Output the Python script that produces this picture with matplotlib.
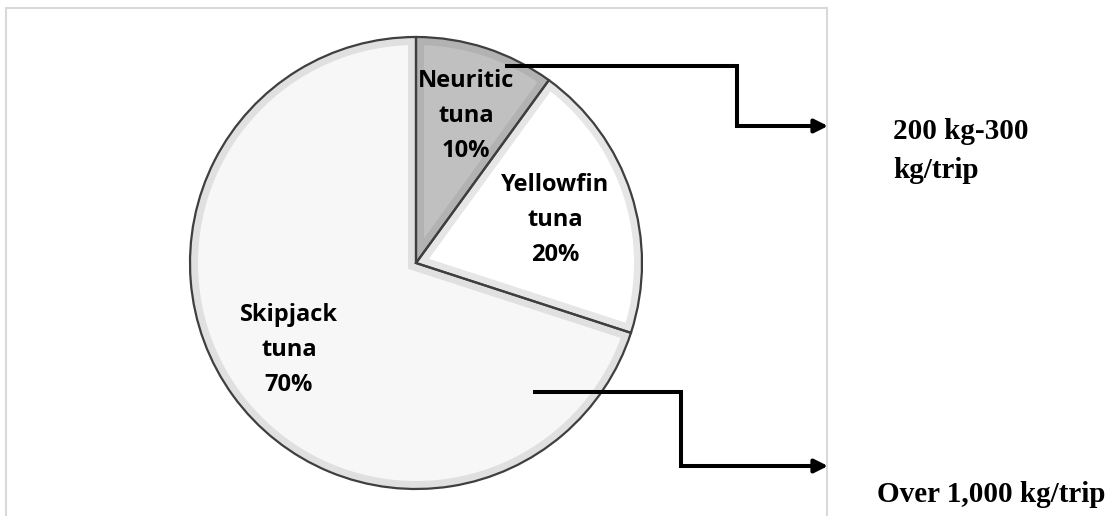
import numpy as np
import matplotlib.pyplot as plt
from matplotlib.patches import Rectangle, Polygon

# data
species = ['Neuritic\ntuna', 'Yellowfin\ntuna', 'Skipjack\ntuna']
shares = [10, 20, 70]
fill_colors = ['#c0c0c0', '#ffffff', '#f7f7f7']
rim_colors = ['#b2b2b2', '#e6e6e6', '#e0e0e0']
catch_notes = ['200 kg-300\nkg/trip', 'Over 1,000 kg/trip']

W, H = 1114, 516
fig = plt.figure(figsize=(W / 100, H / 100), dpi=100)
ax = fig.add_axes([0, 0, 1, 1])

def py(y):
    # pixel row (from top) -> data y
    return H - y

cx, cy, r = 416, py(263), 226
rim = 8  # bevel width in px

# base pie in the rim colour
wedges, _ = ax.pie(shares, colors=rim_colors, startangle=90, counterclock=False,
                   center=(cx, cy), radius=r, wedgeprops=dict(linewidth=0))

# inset face of every wedge (bevel look)
for w, fc in zip(wedges, fill_colors):
    t1, t2 = np.radians(w.theta1), np.radians(w.theta2)
    half = (t2 - t1) / 2
    bis = t1 + half
    off = rim / np.sin(half)
    apex = (cx + off * np.cos(bis), cy + off * np.sin(bis))
    r_in = r - rim
    delta = np.arcsin(rim / r_in)
    ang = np.linspace(t1 + delta, t2 - delta, 200)
    pts = [apex] + list(zip(cx + r_in * np.cos(ang), cy + r_in * np.sin(ang)))
    ax.add_patch(Polygon(pts, closed=True, facecolor=fc, edgecolor='none'))

# dark outline on top
ax.pie(shares, colors=['none'] * 3, startangle=90, counterclock=False,
       center=(cx, cy), radius=r,
       wedgeprops=dict(linewidth=1.6, edgecolor='#3f3f3f', facecolor='none'))

ax.set_xlim(0, W)
ax.set_ylim(0, H)
ax.set_aspect('auto')
ax.axis('off')

# outer frame
ax.add_patch(Rectangle((6, py(530)), 821, 522, fill=False, edgecolor='#d9d9d9', linewidth=1.5))

# slice labels
label_pos = [(466, 116), (555, 220), (289, 350)]
for name, s, (x, y) in zip(species, shares, label_pos):
    ax.text(x, py(y), f'{name}\n{s}%', ha='center', va='center', fontsize=17,
            fontweight='bold', family='Open Sans', linespacing=1.62)

# connector arrows
arrow_paths = [[(507, 66), (737, 66), (737, 126), (812, 126)],
               [(535, 392), (681, 392), (681, 466), (812, 466)]]
for pts in arrow_paths:
    xs = [p[0] for p in pts]
    ys = [py(p[1]) for p in pts]
    ax.plot(xs, ys, color='black', linewidth=2.9, solid_joinstyle='miter')
    ax.annotate('', xy=(828, ys[-1]), xytext=(808, ys[-1]),
                arrowprops=dict(arrowstyle='-|>', color='black', lw=2.9,
                                mutation_scale=20, shrinkA=0, shrinkB=0))

ax.text(893, py(151), catch_notes[0], ha='left', va='center', fontsize=21,
        fontweight='bold', family='Liberation Serif', linespacing=1.6)
ax.text(877, py(495), catch_notes[1], ha='left', va='center', fontsize=21,
        fontweight='bold', family='Liberation Serif')

fig.savefig('out.png', dpi=100)
